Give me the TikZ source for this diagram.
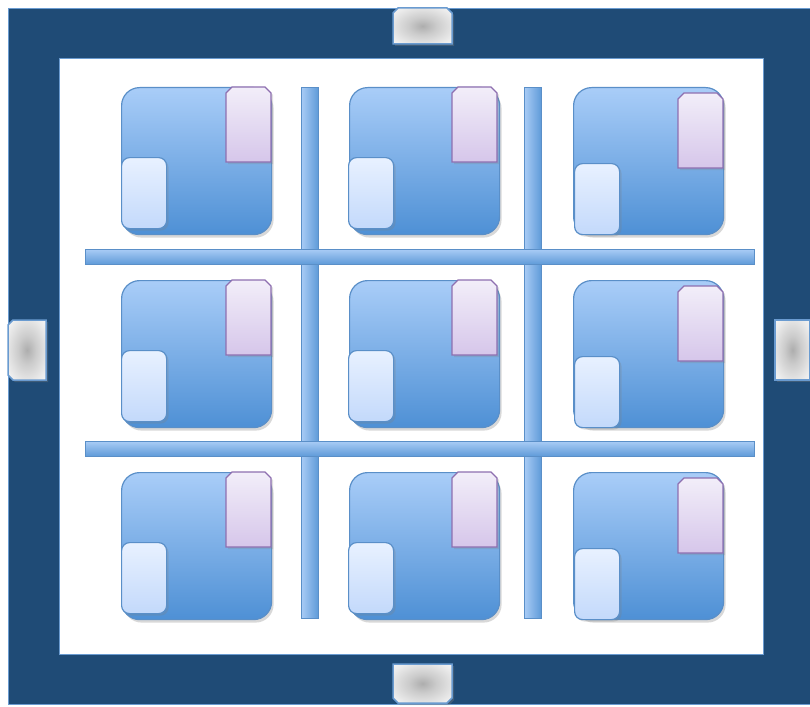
\documentclass[tikz,border=0pt]{standalone}
\usetikzlibrary{shadows}
\definecolor{framec}{HTML}{1F4B76}
\definecolor{frameedge}{HTML}{6A9BD0}
\definecolor{tiletop}{HTML}{A9CDF8}
\definecolor{tilebot}{HTML}{4E90D5}
\definecolor{tileedge}{HTML}{5A8FC8}
\definecolor{purtop}{HTML}{F2EEF9}
\definecolor{purbot}{HTML}{D6C6EA}
\definecolor{puredge}{HTML}{8E6FB0}
\definecolor{lbtop}{HTML}{E8F1FF}
\definecolor{lbbot}{HTML}{C3D9FB}
\definecolor{bartop}{HTML}{A8CBF5}
\definecolor{barbot}{HTML}{5E9AD8}
\pgfdeclareradialshading{tabshade}{\pgfpoint{0bp}{0bp}}{color(0bp)=(black!32); color(12bp)=(black!20); color(28bp)=(black!8); color(42bp)=(white); color(50bp)=(white)}
\tikzset{
  tile/.style={draw=tileedge, line width=1.2pt, rounded corners=18pt, top color=tiletop, bottom color=tilebot,
    minimum width=150pt, minimum height=147pt, inner sep=0pt, anchor=north west,
    drop shadow={shadow xshift=2pt, shadow yshift=-3pt, opacity=0.3}},
  purtab/.style={draw=puredge, line width=1.2pt, top color=purtop, bottom color=purbot,
    drop shadow={shadow xshift=2pt, shadow yshift=-2pt, opacity=0.25}},
  lbox/.style={draw=tileedge, line width=1.2pt, rounded corners=8pt, top color=lbtop, bottom color=lbbot,
    minimum width=45pt, minimum height=71pt, inner sep=0pt, anchor=north west,
    drop shadow={shadow xshift=2pt, shadow yshift=-2pt, opacity=0.25}},
  vbar/.style={draw=tileedge, line width=0.8pt, left color=bartop, right color=barbot,
    minimum width=17pt, minimum height=531pt, inner sep=0pt, anchor=north west},
  hbar/.style={draw=tileedge, line width=0.8pt, top color=bartop, bottom color=barbot,
    minimum width=669pt, minimum height=15pt, inner sep=0pt, anchor=north west},
  sidetab/.style={draw=frameedge, line width=1.5pt, shading=tabshade,
    drop shadow={shadow xshift=2pt, shadow yshift=-2pt, opacity=0.35}},
}
\newcommand{\purtabat}[2]{%
  \path[purtab] (#1,#2+75) -- (#1,#2+6) -- (#1+6,#2) -- (#1+39,#2) -- (#1+45,#2+6) -- (#1+45,#2+75) -- cycle;}
\begin{document}
\begin{tikzpicture}[x=1pt,y=-1pt]
\useasboundingbox (0,0) rectangle (810,706);
\node[draw=frameedge, line width=1pt, fill=framec, inner sep=0pt, minimum width=802pt, minimum height=696pt, anchor=north west] (frame) at (8,8) {};
\node[draw=frameedge, line width=1pt, fill=white, inner sep=0pt, minimum width=704pt, minimum height=596pt, anchor=north west] (inner) at (59,58) {};
% side tabs
\path[sidetab] (393,44) -- (393,13) -- (398,8) -- (447,8) -- (452,13) -- (452,44) -- cycle;
\path[sidetab] (393,664) -- (452,664) -- (452,698) -- (447,703) -- (398,703) -- (393,698) -- cycle;
\path[sidetab] (46,320) -- (13,320) -- (8,325) -- (8,375) -- (13,380) -- (46,380) -- cycle;
\path[sidetab] (775,320) -- (810,320) -- (810,380) -- (775,380) -- cycle;
% tiles
\foreach \r/\y in {1/87, 2/280, 3/472}{
  \node[tile] (t\r a) at (121,\y) {};
  \node[tile] (t\r b) at (349,\y) {};
  \node[tile] (t\r c) at (573,\y) {};
  \purtabat{226}{\y}
  \purtabat{452}{\y}
  \purtabat{678}{\y+6}
  \node[lbox] (l\r a) at (121,\y+70) {};
  \node[lbox] (l\r b) at (348,\y+70) {};
  \node[lbox] (l\r c) at (574,\y+76) {};
}
% bars
\node[vbar] (v1) at (301,87) {};
\node[vbar] (v2) at (524,87) {};
\node[hbar] (h1) at (85,249) {};
\node[hbar] (h2) at (85,441) {};
\end{tikzpicture}
\end{document}
